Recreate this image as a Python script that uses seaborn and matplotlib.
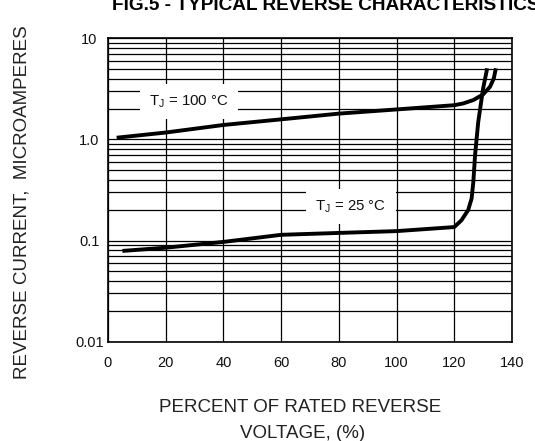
import matplotlib
matplotlib.use("Agg")
import matplotlib.pyplot as plt
import matplotlib.ticker as mticker
import numpy as np
import pandas as pd
import seaborn as sns

# ---- data ----
volt_100 = [3, 20, 40, 60, 80, 100, 120, 123.1, 126.6, 130.0, 132.4, 133.7, 134.4]
curr_100 = [1.04, 1.17, 1.39, 1.58, 1.80, 1.98, 2.18, 2.27, 2.45, 2.79, 3.32, 4.02, 5.05]
volt_25 = [5, 20, 40, 60, 80, 100, 120, 122.5, 124.8, 126.0, 126.6, 127.2, 128.3, 130.0, 131.4]
curr_25 = [0.079, 0.085, 0.097, 0.114, 0.119, 0.124, 0.136, 0.159, 0.20, 0.26, 0.38, 0.70, 1.49, 3.2, 5.05]

x_ticks = [0, 20, 40, 60, 80, 100, 120, 140]
y_ticks = [0.01, 0.1, 1.0, 10]
y_tick_labels = ["0.01", "0.1", "1.0", "10"]

title = "FIG.5 - TYPICAL REVERSE CHARACTERISTICS"
ylabel = "REVERSE CURRENT,  MICROAMPERES"
xlabel_1 = "PERCENT OF RATED REVERSE"
xlabel_2 = "VOLTAGE, (%)"
label_100 = r"T$_{\mathregular{J}}$ = 100 °C"
label_25 = r"T$_{\mathregular{J}}$ = 25 °C"
label_100_pos = (28.1, 2.39)
label_25_pos = (84.2, 0.218)

df100 = pd.DataFrame({"v": volt_100, "i": curr_100})
df25 = pd.DataFrame({"v": volt_25, "i": curr_25})

sns.set_style("white")
plt.rcParams["font.family"] = ["Liberation Sans", "DejaVu Sans"]
plt.rcParams["mathtext.fontset"] = "custom"
plt.rcParams["mathtext.rm"] = "Liberation Sans"

W, H = 535, 441
fig = plt.figure(figsize=(W / 100, H / 100), dpi=100)
L, R, T, B = 108, 512, 38.3, 341.7
ax = fig.add_axes([L / W, 1 - B / H, (R - L) / W, (B - T) / H])

for d in (df100, df25):
    sns.lineplot(data=d, x="v", y="i", ax=ax, color="black", lw=2.8,
                 estimator=None, sort=False, zorder=4,
                 solid_joinstyle="round", solid_capstyle="butt")

ax.set_yscale("log")
ax.set_xlim(0, 140)
ax.set_ylim(0.01, 10)
ax.set_xticks(x_ticks)
ax.xaxis.set_minor_locator(mticker.NullLocator())
ax.set_yticks(y_ticks)
ax.set_yticklabels(y_tick_labels)
ax.yaxis.set_minor_locator(mticker.LogLocator(base=10, subs=np.arange(2, 10)))
ax.yaxis.set_minor_formatter(mticker.NullFormatter())
ax.set_axisbelow(True)
ax.grid(True, which="both", axis="both", color="black", lw=0.9)
ax.tick_params(axis="both", which="both", length=0, labelsize=10.5, colors="#111111")
ax.tick_params(axis="x", pad=10.3)
ax.tick_params(axis="y", pad=13.3)
for lab in ax.get_yticklabels():
    lab.set_horizontalalignment("center")
ax.set_xlabel("")
ax.set_ylabel("")
for s in ax.spines.values():
    s.set_color("black")
    s.set_linewidth(1.2)

for txt, pos in [(label_100, label_100_pos), (label_25, label_25_pos)]:
    ax.text(pos[0], pos[1], txt, ha="center", va="center", fontsize=10.8,
            color="#111111", zorder=5,
            bbox=dict(boxstyle="square,pad=0.6", fc="white", ec="none"))

fig.text(112 / W, 1 - 9.5 / H, title, ha="left", va="baseline",
         fontsize=13.7, fontweight="bold", color="black")
fig.text(22 / W, 1 - 202.5 / H, ylabel, rotation=90, ha="center", va="center",
         fontsize=13.5, color="#222222")
fig.text(300 / W, 1 - 411.7 / H, xlabel_1, ha="center", va="baseline",
         fontsize=13.5, color="#222222")
fig.text(303 / W, 1 - 438.3 / H, xlabel_2, ha="center", va="baseline",
         fontsize=13.5, color="#222222")

fig.savefig("out.png", dpi=100, facecolor="white")
